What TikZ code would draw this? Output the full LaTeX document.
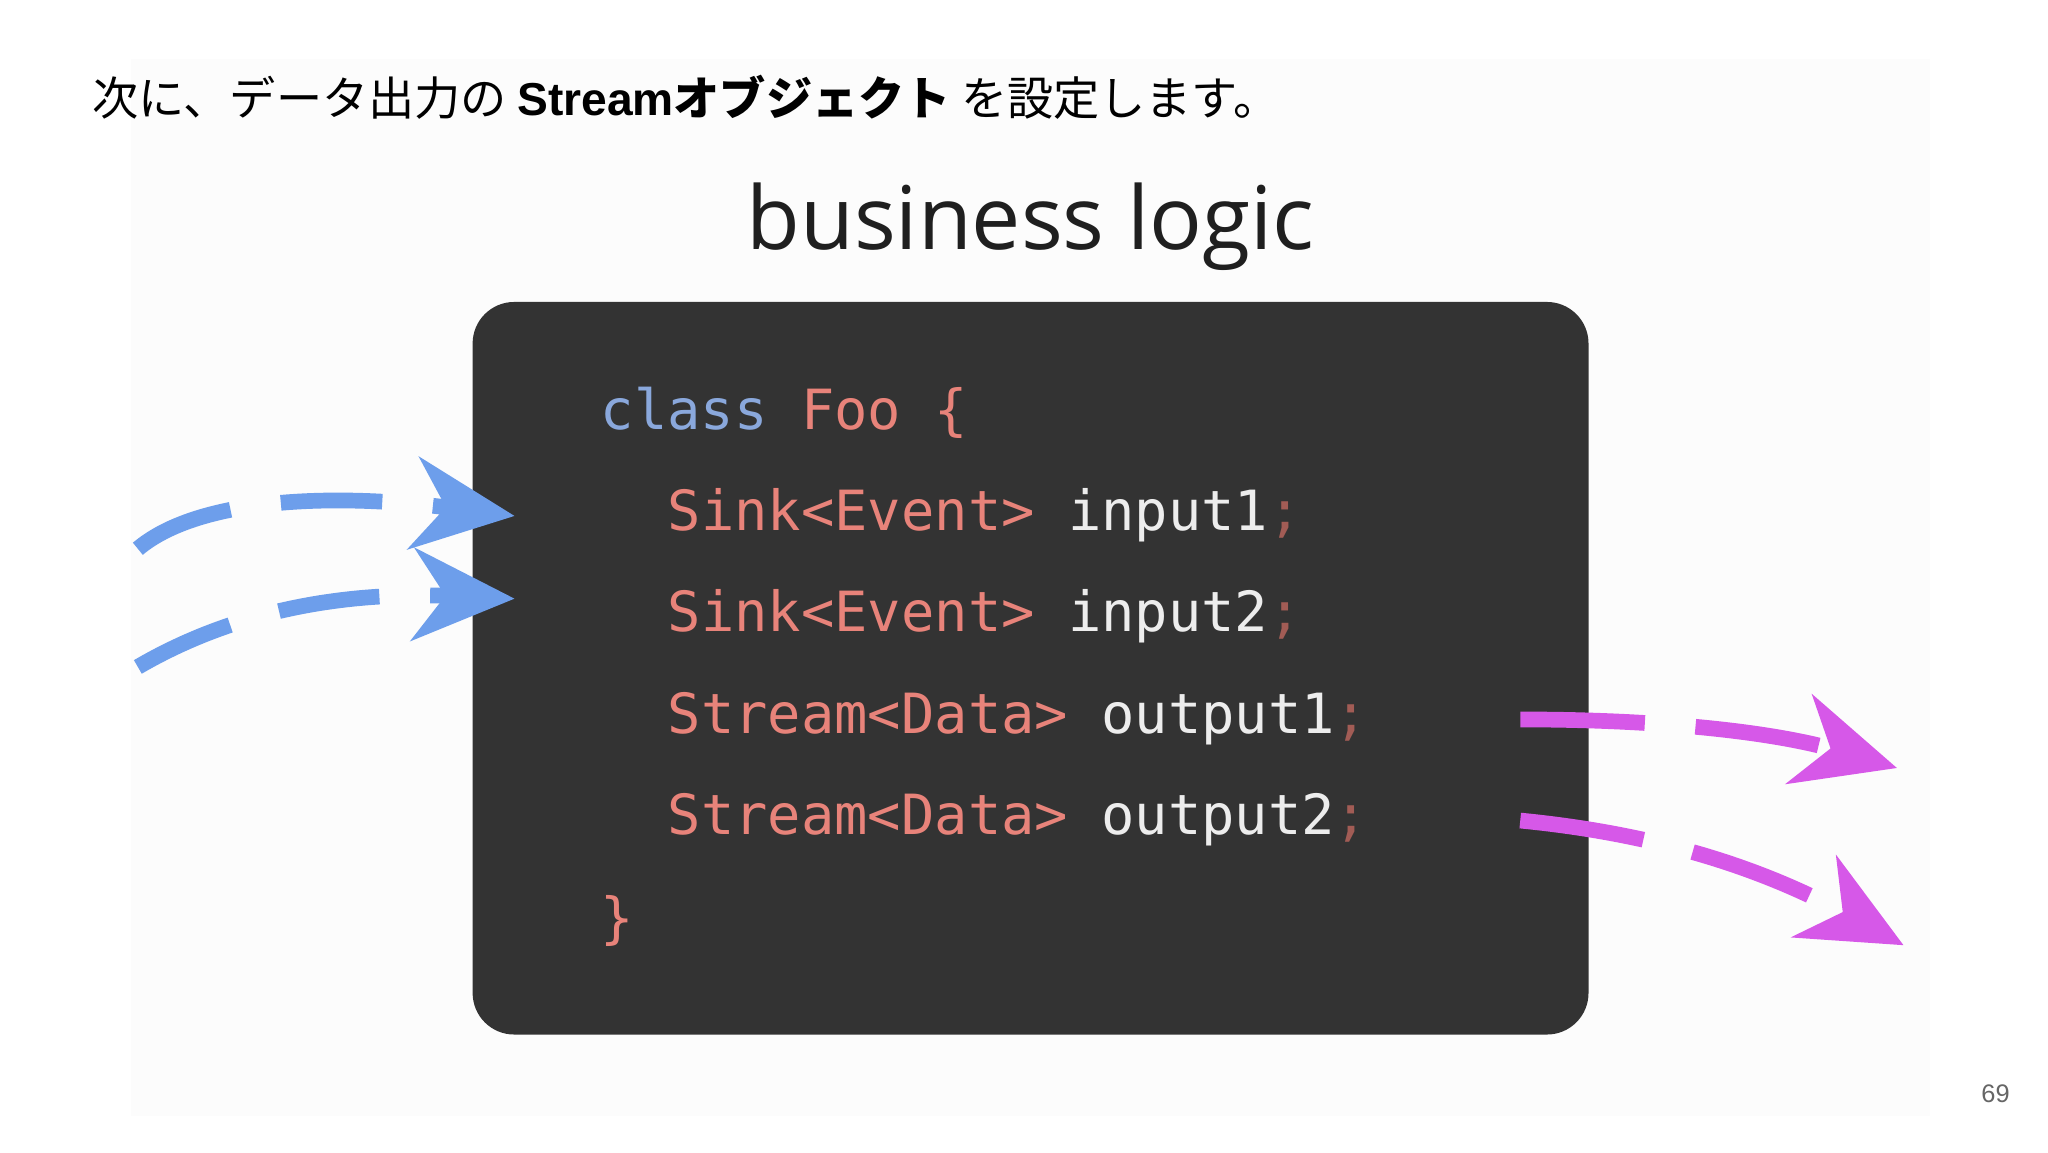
\documentclass[tikz,border=0pt]{standalone}
\usepackage{fontspec}
\setmainfont{Open Sans}
\newfontfamily\cjk{Noto Sans CJK JP}
\newfontfamily\lat{Liberation Sans}
\newfontfamily\codef{DejaVu Sans Mono}
\usetikzlibrary{arrows.meta}
\definecolor{salmon}{HTML}{E8837A}
\definecolor{kwblue}{HTML}{8AA8DC}
\definecolor{boxbg}{HTML}{333333}
\definecolor{arrblue}{HTML}{6D9EEB}
\definecolor{arrmag}{HTML}{D658E8}
\tikzset{
 code/.style={anchor=base west,inner sep=0,font=\codef\fontsize{12.0}{14}\selectfont},
 inarrow/.style={arrblue,line width=3.4pt,dash pattern=on 22pt off 11pt,-{Stealth[length=22pt,width=20pt,inset=7pt]}},
 outarrow/.style={arrmag,line width=3.4pt,dash pattern=on 27pt off 11pt,-{Stealth[length=22pt,width=20pt,inset=7pt]}}
}
\begin{document}
\begin{tikzpicture}[x=0.01cm,y=-0.01cm]
\useasboundingbox (0,0) rectangle (1560,877.5);
\fill[white] (0,0) rectangle (1560,877.5);
\fill[black!1] (100,45) rectangle (1470,850);
\node[anchor=base west,inner sep=0,font=\cjk\fontsize{10}{12}\selectfont] (title) at (70,88) {次に、データ出力の {\lat\bfseries Stream}\textbf{オブジェクト} を設定します。};
\node[anchor=base,inner sep=0,font=\fontsize{19}{22}\selectfont,text=black!88] (bl) at (785,190) {business logic};
\fill[boxbg,rounded corners=9pt] (360,230) rectangle (1210,788);
\node[code] (l0) at (457,327) {\textcolor{kwblue}{class} \textcolor{salmon}{Foo \{}};
\node[code] (l1) at (508,404) {\textcolor{salmon}{Sink<Event>} \textcolor{white!93!black}{input1}\textcolor{salmon!70!black};};
\node[code] (l2) at (508,481) {\textcolor{salmon}{Sink<Event>} \textcolor{white!93!black}{input2}\textcolor{salmon!70!black};};
\node[code] (l3) at (508,559) {\textcolor{salmon}{Stream<Data>} \textcolor{white!93!black}{output1}\textcolor{salmon!70!black};};
\node[code] (l4) at (508,636) {\textcolor{salmon}{Stream<Data>} \textcolor{white!93!black}{output2}\textcolor{salmon!70!black};};
\node[code] (l5) at (457,714) {\textcolor{salmon}{\}}};
\coordinate (a1s) at (105,418); \coordinate (a1e) at (392,393);
\coordinate (a2s) at (105,508); \coordinate (a2e) at (392,456);
\draw[inarrow] (a1s) .. controls (150,380) and (250,375) .. (a1e);
\draw[inarrow] (a2s) .. controls (170,470) and (250,450) .. (a2e);
\coordinate (b1s) at (1158,548); \coordinate (b1e) at (1445,585);
\coordinate (b2s) at (1158,625); \coordinate (b2e) at (1450,720);
\draw[outarrow] (b1s) .. controls (1280,548) and (1360,560) .. (b1e);
\draw[outarrow] (b2s) .. controls (1260,635) and (1340,660) .. (b2e);
\node[anchor=base,inner sep=0,text=black!60,font=\lat\fontsize{5.5}{6}\selectfont] (pg) at (1520,840) {69};
\end{tikzpicture}
\end{document}
